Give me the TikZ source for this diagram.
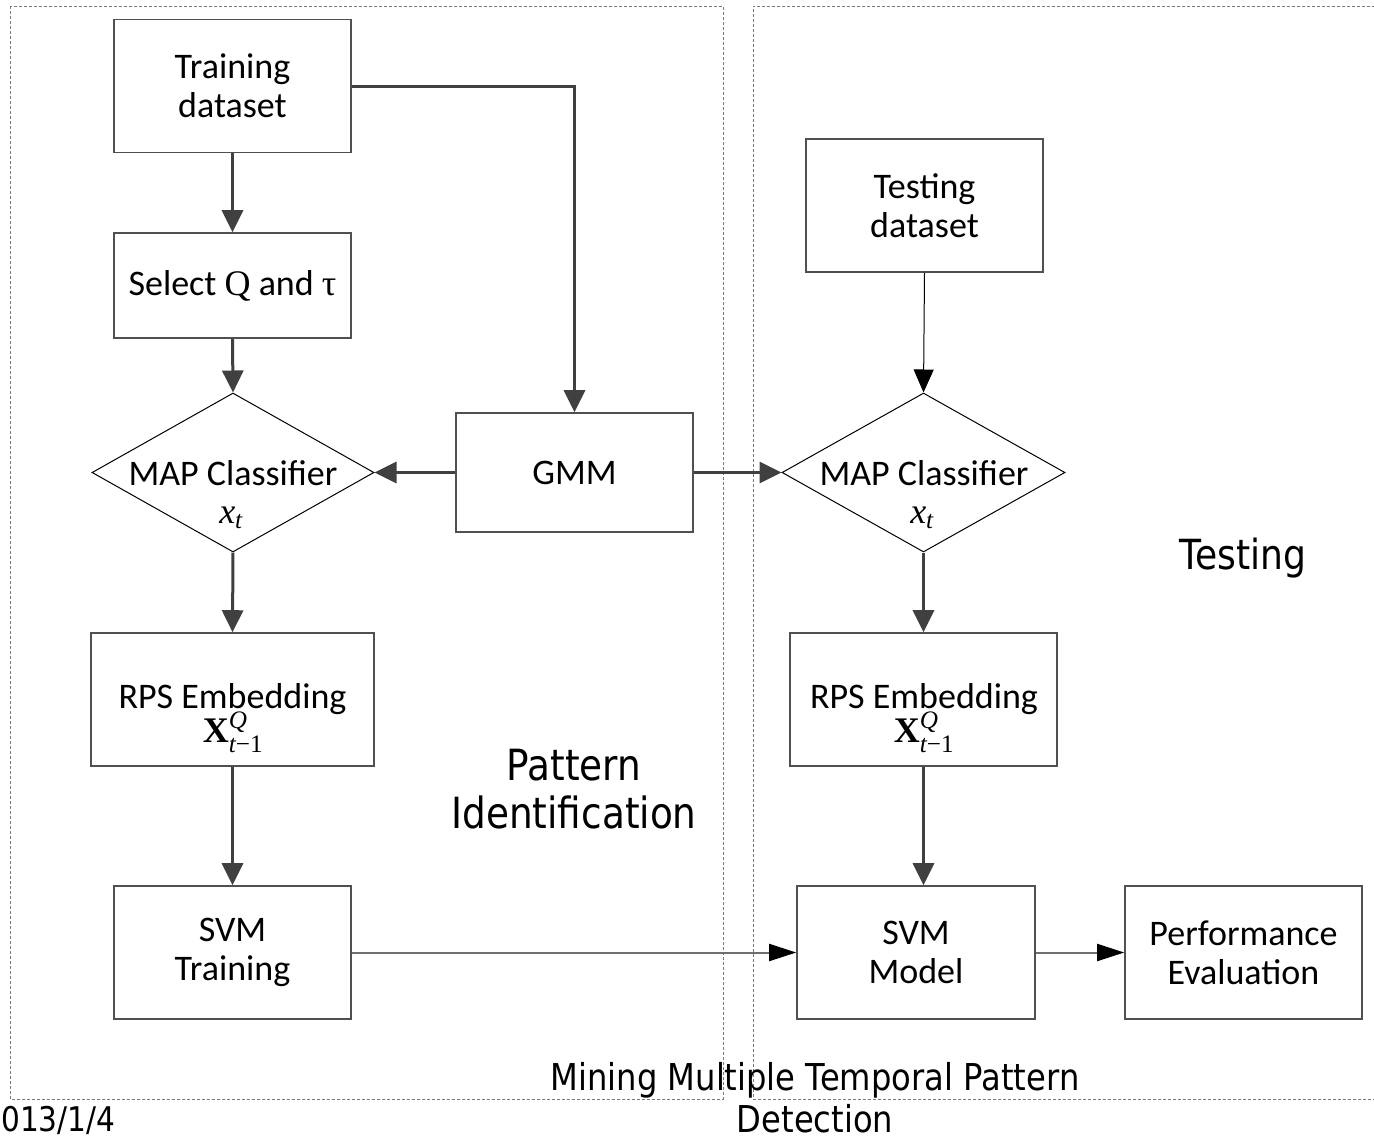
\documentclass[tikz,border=0pt]{standalone}
\usepackage{fontspec}
\usepackage{amsmath}
\setmainfont{Carlito}
\newfontfamily\tnr{Liberation Serif}
\newfontfamily\labelfont[FakeStretch=0.87]{DejaVu Sans}
\usetikzlibrary{shapes.geometric,arrows.meta}

\definecolor{boxgray}{HTML}{505050}
\definecolor{arrowgray}{HTML}{404040}
\definecolor{framegray}{HTML}{7A7A7A}
\definecolor{linegray}{HTML}{6E6E6E}

\newcommand{\boxfont}{\fontsize{36}{39}\selectfont}
\newcommand{\xvar}{$\text{\tnr\itshape x}_{\text{\tnr\itshape t}}$}
\newcommand{\Xvar}{$\text{\tnr\bfseries X}^{\text{\tnr\itshape Q}}_{\text{\tnr\itshape t}\text{\tnr −1}}$}

\begin{document}
\begin{tikzpicture}[x=1pt,y=-1pt,
  box/.style={draw=boxgray, line width=1.6pt, minimum width=237pt,
    minimum height=133pt, align=center, inner sep=0pt, font=\boxfont},
  dia/.style={diamond, draw=black, line width=1pt, aspect=1.78,
    inner sep=0pt, minimum width=282pt, minimum height=159pt},
  txt/.style={inner sep=0pt, anchor=base, font=\boxfont},
  heavy/.style={draw=arrowgray, line width=3pt,
    -{Triangle[length=22pt,width=21pt]}},
  thinarrow/.style={draw=black, line width=1pt,
    -{Triangle[length=23pt,width=20pt]}},
  longarrow/.style={draw=linegray, line width=2pt,
    -{Triangle[length=27pt,width=17pt,color=black]}},
  frame/.style={draw=framegray, line width=1pt, dash pattern=on 3pt off 2pt},
  lab/.style={inner sep=0pt, align=center}
]
% canvas
\path[use as bounding box, fill=white] (0,0) rectangle (1374,1138);
\clip (0,0) rectangle (1374,1138);

% dashed frames of the two stages
\draw[frame] (10,6) rectangle (723,1099);
\draw[frame] (1380,6) -- (753,6) -- (753,1099) -- (1380,1099);

% training stage
\node[box] (train) at (232.5,86) {Training\\dataset};
\node[box, minimum height=105pt] (select) at (232.5,285.5)
  {Select {\tnr Q} and {\tnr τ}};
\node[dia] (map1) at (233,472.5) {};
\node[txt] (map1t) at (233,485) {MAP Classifier};
\node[txt] (map1x) at (231,523) {\xvar};
\node[box, minimum width=283pt] (rps1) at (232.5,699.5) {};
\node[txt] (rps1t) at (232.5,708) {RPS Embedding};
\node[txt, font=\fontsize{36}{40}\selectfont] (rps1x) at (233,742) {\Xvar};
\node[box] (svmt) at (232.5,952.5) {SVM\\Training};
\node[box, minimum height=119pt] (gmm) at (574.5,472.5) {GMM};

% testing stage
\node[box] (test) at (924.5,205.5) {Testing\\dataset};
\node[dia, minimum width=283pt] (map2) at (923.5,472.5) {};
\node[txt] (map2t) at (924,485) {MAP Classifier};
\node[txt] (map2x) at (922,523) {\xvar};
\node[box, minimum width=267pt] (rps2) at (923.5,699.5) {};
\node[txt] (rps2t) at (924,708) {RPS Embedding};
\node[txt, font=\fontsize{36}{40}\selectfont] (rps2x) at (924,742) {\Xvar};
\node[box, minimum width=238pt] (svmm) at (916,952.5) {SVM\\Model};
\node[box] (perf) at (1243.5,952.5) {Performance\\Evaluation};

% connectors
\draw[heavy] (train.south) -- (select.north);
\draw[heavy] (select.south) -- (map1.north);
\draw[heavy] (map1.south) -- (rps1.north);
\draw[heavy] (rps1.south) -- (svmt.north);
\draw[heavy] (train.east) -| (gmm.north);
\draw[heavy] (gmm.west) -- (map1.east);
\draw[heavy] (gmm.east) -- (map2.west);
\draw[thinarrow] (test.south) -- (map2.north);
\draw[heavy] (map2.south) -- (rps2.north);
\draw[heavy] (rps2.south) -- (rps2.south |- svmm.north);
\draw[longarrow] (svmt.east) -- (svmm.west);
\draw[longarrow] (svmm.east) -- (perf.west);

% stage labels
\node[lab, font=\labelfont\fontsize{41.5}{48}\selectfont] (testlab)
  at (1243,558) {Testing};
\node[lab, font=\labelfont\fontsize{43}{48}\selectfont] (patlab)
  at (574,789) {Pattern\\Identification};
\node[lab, font=\labelfont\fontsize{37}{42}\selectfont] (title)
  at (815,1098) {Mining Multiple Temporal Pattern\\Detection};
\node[lab, anchor=west, font=\labelfont\fontsize{34}{40}\selectfont] (date)
  at (1,1120) {013/1/4};
\end{tikzpicture}
\end{document}
